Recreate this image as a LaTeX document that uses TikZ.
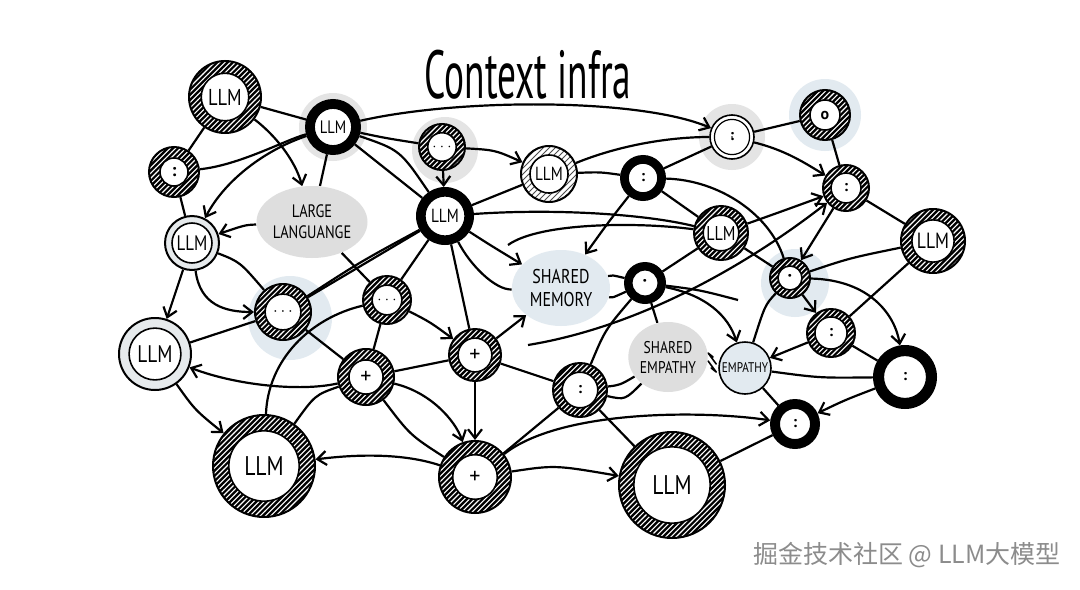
\documentclass[tikz,border=0pt]{standalone}
\usepackage{fontspec}
\setmainfont{PT Sans}
\newfontfamily\cjkfont{Noto Sans CJK SC}
\usetikzlibrary{arrows.meta, patterns, calc, shapes.geometric}

\definecolor{halogray}{HTML}{E4E4E4}
\definecolor{haloblue}{HTML}{E2EAF0}
\definecolor{blobgray}{HTML}{DEDEDE}
\definecolor{ringgray}{HTML}{E6EAEC}

\pgfdeclarelayer{halo}
\pgfdeclarelayer{wires}
\pgfsetlayers{halo,wires,main}

\pgfdeclarepatternformonly{sketchhatch}{\pgfqpoint{-1pt}{-1pt}}{\pgfqpoint{3.6pt}{3.6pt}}{\pgfqpoint{2.6pt}{2.6pt}}{%
  \pgfsetlinewidth{0.55pt}
  \pgfpathmoveto{\pgfqpoint{0pt}{0pt}}
  \pgfpathlineto{\pgfqpoint{2.7pt}{2.7pt}}
  \pgfusepath{stroke}}

% white inner disc of a ring node, #1 = ratio of the outer radius
\newcommand\innerring[2]{\filldraw[fill=white, line width=0.8pt, #2] let \p1=($(path picture bounding box.east)-(path picture bounding box.center)$) in (path picture bounding box.center) circle ({#1*\x1});}
% narrow hand lettering
\newcommand\narrow[1]{\scalebox{0.8}[1]{#1}}

\tikzset{
  fs/.style={font=\fontsize{#1}{#1}\selectfont},
  ringbase/.style={circle, draw, inner sep=0pt, line width=1pt},
  hatch/.style={ringbase, fill=black, path picture={
      \fill[pattern=sketchhatch, pattern color=white] (path picture bounding box.south west) rectangle (path picture bounding box.north east);
      \innerring{#1}{}}},
  dark/.style={ringbase, fill=black, path picture={\innerring{#1}{}}},
  light/.style={ringbase, fill=white, path picture={
      \fill[pattern=north east lines, pattern color=black!70] (path picture bounding box.south west) rectangle (path picture bounding box.north east);
      \innerring{#1}{}}},
  grayring/.style={ringbase, fill=ringgray, path picture={\innerring{#1}{}}},
  thinring/.style={ringbase, line width=0.8pt, fill=white, path picture={
      \innerring{#1}{line width=0.6pt}
      \innerring{#1-0.07}{line width=0.6pt}}},
  blob/.style={ellipse, fill=blobgray, inner sep=0pt, align=center},
  wire/.style={line width=1.1pt},
  harp/.style={line width=0.8pt, line cap=round, line join=round},
}

\begin{document}
\begin{tikzpicture}[x=0.5pt, y=-0.5pt, >={Straight Barb[length=4.5pt, width=7pt]}]
\useasboundingbox (0,0) rectangle (1080,589);

% title
\node[fs=34, xscale=0.55] (title) at (528,75) {Context infra};

% rings
\node[hatch=0.66, minimum size=36pt, fs=11.5] (llma) at (225,97) {\narrow{LLM}};
\node[hatch=0.56, minimum size=25pt, fs=9] (colb) at (174,172) {\textbf{:}};
\node[dark=0.7, minimum size=27pt, fs=9] (llmc) at (333,127) {\narrow{LLM}};
\node[hatch=0.62, minimum size=23pt, fs=7] (dotsd) at (442,147) {$\cdots$};
\node[dark=0.72, minimum size=28pt, fs=9.5] (llme) at (445,216) {\narrow{LLM}};
\node[light=0.68, minimum size=28pt, fs=9.5] (llmf) at (549,174) {\narrow{LLM}};
\node[thinring=0.8, minimum size=22pt, fs=8] (colg) at (732,137) {\textbf{:}};
\node[hatch=0.6, minimum size=25pt, fs=8] (ringh) at (825,115) {\textbf{o}};
\node[dark=0.68, minimum size=22pt, fs=8] (coli) at (643,178) {\textbf{:}};
\node[hatch=0.65, minimum size=23pt, fs=8] (colj) at (846,188) {\textbf{:}};
\node[hatch=0.66, minimum size=27pt, fs=10] (llmk) at (721,233) {\narrow{LLM}};
\node[hatch=0.66, minimum size=32pt, fs=11] (llml) at (933,241) {\narrow{LLM}};
\node[hatch=0.6, minimum size=20pt, fs=9] (dotm) at (790,278) {\textbf{·}};
\node[grayring=0.74, minimum size=27pt, fs=10.5] (llmn) at (192,243) {\narrow{LLM}};
\node[dark=0.66, minimum size=20pt, fs=9] (dotq) at (645,283) {\textbf{·}};
\node[hatch=0.64, minimum size=28pt, fs=8] (dotsr) at (283,312) {$\cdots$};
\node[hatch=0.62, minimum size=24pt, fs=7] (dotss) at (387,300) {$\cdots$};
\node[grayring=0.72, minimum size=36pt, fs=12] (llmt) at (155,354) {\narrow{LLM}};
\node[hatch=0.61, minimum size=28pt, fs=11] (plusu) at (366,377) {+};
\node[hatch=0.65, minimum size=26pt, fs=11] (plusv) at (475,355) {+};
\node[hatch=0.66, minimum size=27pt, fs=8] (colw) at (580,390) {\textbf{:}};
\node[hatch=0.67, minimum size=24pt, fs=8] (colz) at (831,333) {\textbf{:}};
\node[dark=0.7, minimum size=31pt, fs=8] (colaa) at (905,377) {\textbf{:}};
\node[dark=0.66, minimum size=24pt, fs=8] (colab) at (795,424) {\textbf{:}};
\node[hatch=0.69, minimum size=51pt, fs=13.5] (llmac) at (264,466) {\narrow{LLM}};
\node[hatch=0.62, minimum size=36pt, fs=11] (plusad) at (475,477) {+};
\node[hatch=0.72, minimum size=53pt, fs=13.5] (llmae) at (672,485) {\narrow{LLM}};

% labels
\node[blob, minimum width=43pt, minimum height=36pt, font=\fontsize{9}{10.5}\selectfont] (large) at (312,222) {\narrow{LARGE}\\\narrow{LANGUANGE}};
\node[blob, fill=haloblue, minimum width=49pt, minimum height=38pt, font=\fontsize{10}{11.5}\selectfont] (memory) at (561,288) {\narrow{SHARED}\\\narrow{MEMORY}};
\node[blob, minimum width=38pt, minimum height=35pt, font=\fontsize{8.5}{10}\selectfont] (shemp) at (668,357) {\narrow{SHARED}\\\narrow{EMPATHY}};
\node[circle, draw, line width=0.8pt, fill=haloblue, inner sep=0pt, minimum size=26pt, fs=7] (empathy) at (745,368) {\narrow{EMPATHY}};

\node[font=\cjkfont\fontsize{12.5}{12.5}\selectfont, text=black!45] (mark) at (907,555) {掘金技术社区 @ LLM大模型};

\coordinate (k in) at (508,245);
\coordinate (j in) at (528,345);
\coordinate (q out) at (738,300);

\begin{pgfonlayer}{halo}
  \fill[white] (0,0) rectangle (1080,589);
  \fill[halogray] (llmc) circle (34);
  \fill[halogray] ([shift={(3,3)}]dotsd) circle (33);
  \fill[halogray] (colg) circle (33);
  \fill[haloblue] (ringh) circle (36);
  \fill[haloblue] ([shift={(5,5)}]dotm) circle (34);
  \fill[haloblue] ([shift={(7,6)}]dotsr) circle (42);
\end{pgfonlayer}

\begin{pgfonlayer}{wires}
\begin{scope}[wire]
  % top left
  \draw (llma) -- (colb);
  \draw (llma) -- (llmc);
  \draw (colb) .. controls (240,165) and (285,140) .. (llmc);
  \draw (colb) -- (llmn);
  \draw (llmc) .. controls (385,138) .. (dotsd);
  \draw (llmc) -- (large);
  \draw (llmc) -- (llme);
  \draw (llmc) .. controls (400,150) .. (llme);
  \draw[->] (llmc) .. controls (460,98) and (640,98) .. (colg);
  \draw[->] (llmc) .. controls (265,150) and (225,180) .. (llmn);
  \draw[->] (llma) .. controls (275,135) and (295,160) .. (large);
  \draw[->] (large) .. controls (245,225) .. (llmn);
  \draw (large) -- (dotss);
  \draw[->] (dotsd) -- (llme);
  \draw[->] (dotsd) .. controls (495,150) .. (llmf);
  % centre
  \draw (llme) -- (llmf);
  \draw (llme) .. controls (560,208) and (650,215) .. (llmk);
  \draw (k in) .. controls (540,222) and (640,222) .. (llmk);
  \draw[->] (llme) .. controls (490,245) .. (memory);
  \draw (llme) .. controls (470,265) and (495,290) .. (memory);
  \draw (llme) -- (plusv);
  \draw (llme) -- (dotss);
  \draw (llme) -- (dotsr);
  \draw (llme) .. controls (360,262) .. (dotsr);
  \draw (llmf) .. controls (600,172) .. (coli);
  \draw (llmf) .. controls (620,145) and (670,137) .. (colg);
  \draw (coli) -- (colg);
  \draw (coli) -- (llmk);
  \draw[->] (coli) .. controls (610,220) .. (memory);
  \draw (coli) .. controls (720,180) and (770,215) .. (dotm);
  % top right
  \draw (colg) -- (ringh);
  \draw[->] (colg) .. controls (785,150) and (805,163) .. (colj);
  \draw (ringh) -- (colj);
  \draw (colj) -- (llml);
  \draw[->] (colj) -- (dotm);
  \draw[->] (llmk) .. controls (780,212) .. (colj);
  \draw[->] (j in) .. controls (650,325) and (760,255) .. (colj);
  \draw (llmk) -- (dotm);
  \draw (dotm) .. controls (850,258) .. (llml);
  \draw[->] (dotm) -- (colz);
  \draw[->] (dotm) .. controls (870,280) and (895,315) .. (colaa);
  \draw (dotm) .. controls (765,305) .. (empathy);
  \draw (llml) -- (colz);
  \draw[->] (colz) -- (empathy);
  \draw (colz) -- (colaa);
  \draw (empathy) .. controls (820,378) .. (colaa);
  \draw (empathy) -- (colab);
  \draw[->] (colaa) .. controls (845,400) .. (colab);
  \draw (llmae) -- (colab);
  % shared memory / empathy
  \draw[->] (dotq) .. controls (705,295) and (728,315) .. (empathy);
  \draw (dotq) -- (shemp);
  \draw (dotq) -- (llmk);
  \draw (memory) .. controls (612,275) .. (dotq);
  \draw (memory) .. controls (612,298) .. (dotq);
  \draw (dotq) .. controls (700,290) .. (q out);
  \draw (colw) .. controls (605,330) .. (dotq);
  \draw (colw) .. controls (620,385) .. (shemp);
  \draw (colw) .. controls (625,400) .. (shemp);
  \draw (colw) -- (llmae);
  \draw (colw) -- (plusad);
  \draw[harp] ([yshift=-2pt]shemp.east) -- ([yshift=-2pt, xshift=-1pt]empathy.west) -- ++(-5,-4);
  \draw[harp] ([yshift=2pt, xshift=-1pt]empathy.west) -- ([yshift=2pt]shemp.east) -- ++(5,4);
  % lower half
  \draw (plusv) -- (colw);
  \draw[->] (plusv) -- (memory);
  \draw[->] (plusv) -- (plusad);
  \draw (plusu) -- (plusv);
  \draw[->] (plusu) .. controls (430,392) and (455,420) .. (plusad);
  \draw (plusu) .. controls (410,435) .. (plusad);
  \draw (plusu) .. controls (315,395) .. (llmac);
  \draw[->] (plusu) .. controls (300,392) and (235,385) .. (llmt);
  \draw (dotsr) -- (plusu);
  \draw (dotss) -- (plusu);
  \draw[->] (dotss) .. controls (430,322) .. (plusv);
  \draw (dotss) .. controls (310,318) and (268,360) .. (llmac);
  \draw (llmt) -- (dotsr);
  \draw (llmn) .. controls (240,262) .. (dotsr);
  \draw[->] (llmn) .. controls (200,305) and (225,312) .. (dotsr);
  \draw[->] (llmn) -- (llmt);
  \draw[->] (llmt) .. controls (195,410) .. (llmac);
  \draw[->] (plusad) .. controls (400,452) and (350,455) .. (llmac);
  \draw[->] (plusad) .. controls (555,465) .. (llmae);
  \draw[->] (plusad) .. controls (560,410) and (700,410) .. (colab);
\end{scope}
\end{pgfonlayer}
\end{tikzpicture}
\end{document}
